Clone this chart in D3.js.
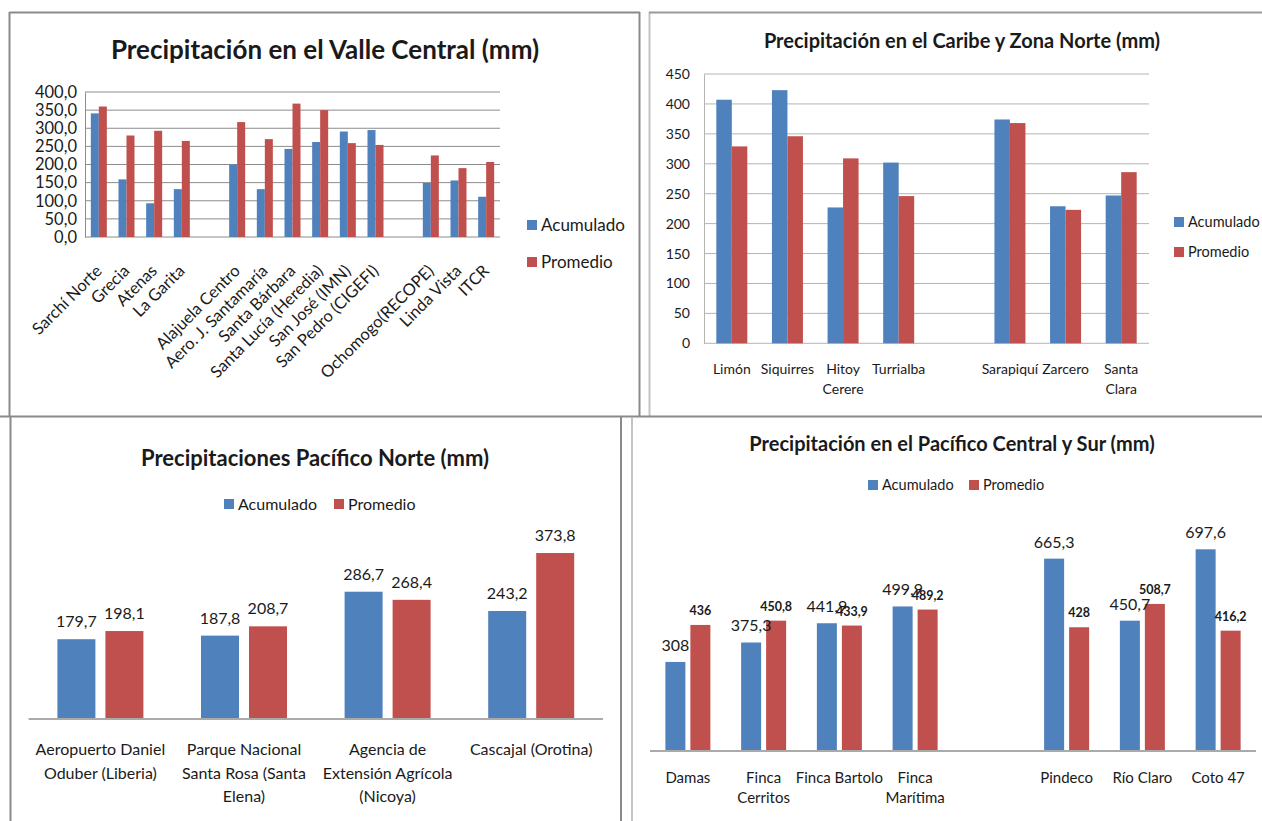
<!DOCTYPE html>
<html>
<head>
<meta charset="utf-8">
<script src="https://cdn.jsdelivr.net/npm/d3@7"></script>
<style>
  body { margin: 0; background: #fff; }
  svg { display: block; }
  text { font-family: Lato, "Open Sans", sans-serif; fill: #1a1a1a; }
</style>
</head>
<body>
<svg id="chart" width="1262" height="821"></svg>
<script>
// ---- data (mm) ----
const series = ["Acumulado", "Promedio"];
const seriesColors = ["#4F81BD", "#C0504D"];

// Valle Central
const vcStations = ["Sarchí Norte", "Grecia", "Atenas", "La Garita", "", "Alajuela Centro",
  "Aero. J. Santamaría", "Santa Bárbara", "Santa Lucía (Heredia)", "San José (IMN)",
  "San Pedro (CIGEFI)", "", "Ochomogo(RECOPE)", "Linda Vista", "ITCR"];
const vcAcumulado = [341, 159, 93, 132, null, 200, 132, 243, 262, 291, 295, null, 149, 156, 111];
const vcPromedio  = [360, 280, 293, 265, null, 317, 270, 368, 350, 259, 254, null, 225, 190, 207];
const vcTicks = [0, 50, 100, 150, 200, 250, 300, 350, 400];

// Caribe y Zona Norte
const czStations = ["Limón", "Siquirres", "Hitoy\nCerere", "Turrialba", "", "Sarapiquí", "Zarcero", "Santa\nClara"];
const czAcumulado = [407, 423, 227, 302, null, 374, 229, 247];
const czPromedio  = [329, 346, 309, 246, null, 368, 223, 286];
const czTicks = [0, 50, 100, 150, 200, 250, 300, 350, 400, 450];

// Pacífico Norte
const pnStations = ["Aeropuerto Daniel\nOduber (Liberia)", "Parque Nacional\nSanta Rosa (Santa\nElena)",
  "Agencia de\nExtensión Agrícola\n(Nicoya)", "Cascajal (Orotina)"];
const pnAcumulado = [179.7, 187.8, 286.7, 243.2];
const pnPromedio  = [198.1, 208.7, 268.4, 373.8];

// Pacífico Central y Sur
const psStations = ["Damas", "Finca\nCerritos", "Finca Bartolo", "Finca\nMarítima", "", "Pindeco", "Río Claro", "Coto 47"];
const psAcumulado = [308, 375.3, 441.9, 499.9, null, 665.3, 450.7, 697.6];
const psPromedio  = [436, 450.8, 433.9, 489.2, null, 428, 508.7, 416.2];

// ---- helpers ----
const svg = d3.select("#chart");
const loc = d3.formatLocale({ decimal: ",", thousands: ".", grouping: [3], currency: ["", ""] });
const fmtTick1 = loc.format(".1f");
const fmtVal = loc.format(".1~f");

function line(x1, y1, x2, y2, color, w) {
  svg.append("line").attr("x1", x1).attr("y1", y1).attr("x2", x2).attr("y2", y2)
    .attr("stroke", color).attr("stroke-width", w);
}

// panel frames
line(9.5, 12, 9.5, 417, "#8a8a8a", 2);
line(9.5, 12.5, 640, 12.5, "#8a8a8a", 2);
line(639.5, 12, 639.5, 417, "#8a8a8a", 2);
line(649.5, 12, 649.5, 417, "#c4c4c4", 2);
line(649, 12.5, 1262, 12.5, "#9a9a9a", 2);
line(0, 416.5, 1262, 416.5, "#8a8a8a", 2);
line(10.5, 417, 10.5, 821, "#8a8a8a", 2);
line(621, 417, 621, 821, "#8a8a8a", 2);
line(632, 417, 632, 821, "#c4c4c4", 2);

function bars(g, stations, values, x0, y, barW, gap) {
  const x1 = d3.scaleBand().domain(series)
    .range([-(barW + gap / 2), barW + gap / 2]).paddingInner(gap / (barW + gap));
  const rows = stations.map((s, i) => ({ i, vals: [values[0][i], values[1][i]] }));
  const grp = g.selectAll(null).data(rows).join("g")
    .attr("transform", d => `translate(${x0(d.i) + x0.bandwidth() / 2},0)`);
  grp.selectAll("rect").data(d => d.vals.map((v, k) => ({ v, k })).filter(o => o.v != null))
    .join("rect")
    .attr("x", o => x1(series[o.k]))
    .attr("width", x1.bandwidth())
    .attr("y", o => y(o.v))
    .attr("height", o => y(0) - y(o.v))
    .attr("fill", o => seriesColors[o.k]);
  return { grp, x1 };
}

function wrappedLabels(g, stations, x0, y0, lineH, size) {
  stations.forEach((s, i) => {
    if (!s) return;
    const t = g.append("text").attr("text-anchor", "middle").attr("font-size", size)
      .attr("x", x0(i) + x0.bandwidth() / 2).attr("y", y0);
    s.split("\n").forEach((part, k) => {
      t.append("tspan").attr("x", x0(i) + x0.bandwidth() / 2).attr("dy", k ? lineH : 0).text(part);
    });
  });
}

function legendVertical(g, x, y, gapY, size) {
  series.forEach((s, k) => {
    g.append("rect").attr("x", x).attr("y", y + k * gapY - 5).attr("width", 10).attr("height", 10)
      .attr("fill", seriesColors[k]);
    g.append("text").attr("x", x + 14).attr("y", y + k * gapY).attr("dy", "0.35em")
      .attr("font-size", size).text(s);
  });
}

function legendHorizontal(g, xs, y, size) {
  series.forEach((s, k) => {
    g.append("rect").attr("x", xs[k]).attr("y", y - 5).attr("width", 10).attr("height", 10)
      .attr("fill", seriesColors[k]);
    g.append("text").attr("x", xs[k] + 14).attr("y", y).attr("dy", "0.35em")
      .attr("font-size", size).text(s);
  });
}

function title(g, x, y, size, txt) {
  g.append("text").attr("x", x).attr("y", y).attr("dy", "0.35em").attr("text-anchor", "middle")
    .attr("font-size", size).attr("font-weight", "bold").text(txt);
}

// ---- Valle Central ----
{
  const g = svg.append("g");
  title(g, 325, 50, 26, "Precipitación en el Valle Central (mm)");
  const x0 = d3.scaleBand().domain(d3.range(vcStations.length)).range([85, 500]);
  const y = d3.scaleLinear().domain([0, 400]).range([237, 92]);
  const grid = g.append("g");
  vcTicks.forEach(t => {
    grid.append("line").attr("x1", 85).attr("x2", 500).attr("y1", y(t)).attr("y2", y(t))
      .attr("stroke", "#8c8c8c").attr("stroke-width", 1);
  });
  const ax = g.append("g").attr("transform", "translate(85,0)")
    .call(d3.axisLeft(y).tickValues(vcTicks).tickFormat(fmtTick1).tickSize(0).tickPadding(8));
  ax.select(".domain").attr("stroke", "#8c8c8c");
  ax.selectAll("text").attr("font-size", 16.5).attr("font-family", "Lato").attr("fill", "#1a1a1a");
  bars(g, vcStations, [vcAcumulado, vcPromedio], x0, y, 8, 0);
  vcStations.forEach((s, i) => {
    if (!s) return;
    g.append("text").attr("text-anchor", "end").attr("font-size", 16.5)
      .attr("transform", `translate(${x0(i) + x0.bandwidth() / 2 + 4},${272}) rotate(-45)`)
      .text(s);
  });
  legendVertical(g, 527, 225, 37, 17);
}

// ---- Caribe y Zona Norte ----
{
  const g = svg.append("g");
  title(g, 962, 41, 20, "Precipitación en el Caribe y Zona Norte (mm)");
  const x0 = d3.scaleBand().domain(d3.range(czStations.length)).range([704, 1149]);
  const y = d3.scaleLinear().domain([0, 450]).range([343.3, 74]);
  czTicks.forEach(t => {
    g.append("line").attr("x1", 704).attr("x2", 1149).attr("y1", y(t)).attr("y2", y(t))
      .attr("stroke", "#b4b4b4").attr("stroke-width", 1);
  });
  const ax = g.append("g").attr("transform", "translate(704,0)")
    .call(d3.axisLeft(y).tickValues(czTicks).tickFormat(d3.format("d")).tickSize(0).tickPadding(14));
  ax.select(".domain").attr("stroke", "#b4b4b4");
  ax.selectAll("text").attr("font-size", 14).attr("font-family", "Lato").attr("fill", "#1a1a1a");
  bars(g, czStations, [czAcumulado, czPromedio], x0, y, 15.5, 0);
  wrappedLabels(g, czStations, x0, 374, 20, 14);
  legendVertical(g, 1174, 222, 30, 14.5);
}

// ---- Pacífico Norte ----
{
  const g = svg.append("g");
  title(g, 315, 458, 22, "Precipitaciones Pacífico Norte (mm)");
  legendHorizontal(g, [224, 334], 504, 16);
  const x0 = d3.scaleBand().domain(d3.range(pnStations.length)).range([28.6, 603]);
  const y = d3.scaleLinear().domain([0, 400]).range([719, 541.4]);
  const { grp, x1 } = bars(g, pnStations, [pnAcumulado, pnPromedio], x0, y, 38, 10);
  grp.selectAll("text.val").data(d => d.vals.map((v, k) => ({ v, k }))).join("text")
    .attr("class", "val").attr("text-anchor", "middle").attr("font-size", 16)
    .attr("x", o => x1(series[o.k]) + x1.bandwidth() / 2)
    .attr("y", o => y(o.v) - 12)
    .text(o => fmtVal(o.v));
  line(28.6, 719, 603, 719, "#aaaaaa", 2);
  wrappedLabels(g, pnStations, x0, 755, 23.5, 16);
}

// ---- Pacífico Central y Sur ----
{
  const g = svg.append("g");
  title(g, 952, 444, 20, "Precipitación en el Pacífico Central y Sur (mm)");
  legendHorizontal(g, [868, 969], 485, 14.5);
  const x0 = d3.scaleBand().domain(d3.range(psStations.length)).range([650, 1256]);
  const y = d3.scaleLinear().domain([0, 800]).range([751, 519.7]);
  const { grp, x1 } = bars(g, psStations, [psAcumulado, psPromedio], x0, y, 20, 5);
  grp.selectAll("text.val").data(d => d.vals.map((v, k) => ({ v, k })).filter(o => o.v != null)).join("text")
    .attr("class", "val").attr("text-anchor", "middle")
    .attr("font-size", o => o.k ? 12.5 : 16)
    .attr("font-weight", o => o.k ? "bold" : "normal")
    .attr("font-family", o => o.k ? "'Liberation Serif', serif" : "Lato")
    .attr("x", o => x1(series[o.k]) + x1.bandwidth() / 2)
    .attr("y", o => y(o.v) - (o.k ? 10 : 11))
    .text(o => fmtVal(o.v));
  line(650, 751, 1256, 751, "#aaaaaa", 2);
  wrappedLabels(g, psStations, x0, 783, 20, 15);
}
</script>
</body>
</html>
